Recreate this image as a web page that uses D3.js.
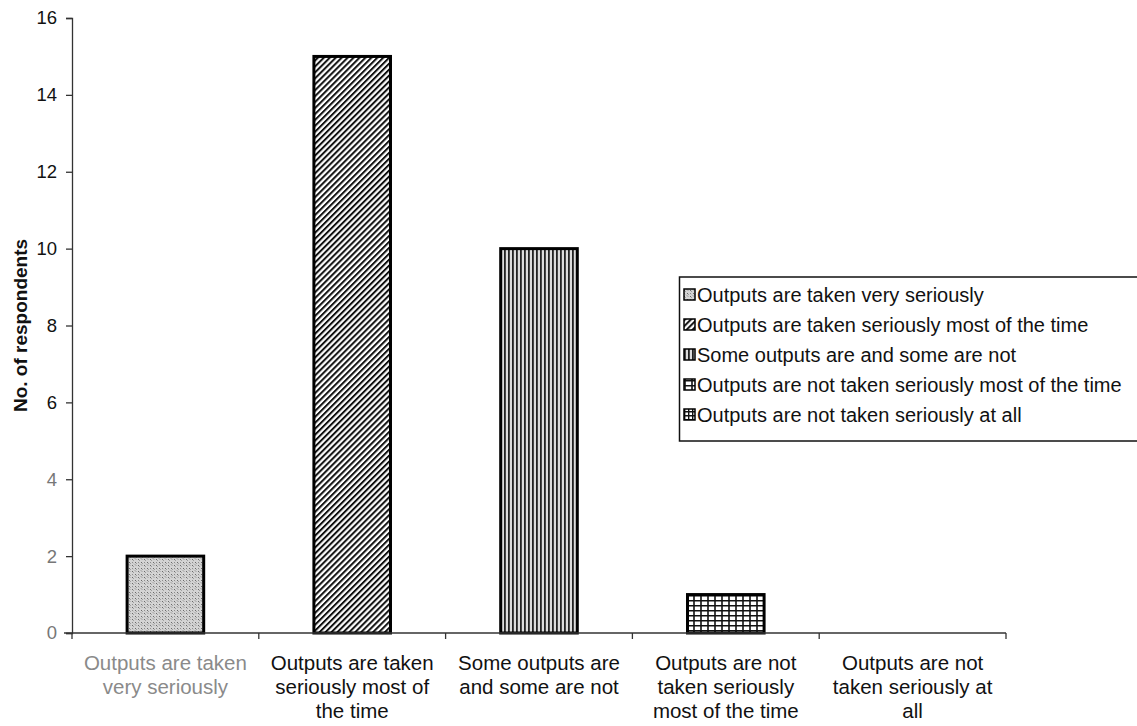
<!DOCTYPE html>
<html>
<head>
<meta charset="utf-8">
<script src="https://cdn.jsdelivr.net/npm/d3@7"></script>
<style>
  html, body { margin: 0; padding: 0; background: #fff; }
  svg { display: block; font-family: "Liberation Sans", Arial, Helvetica, sans-serif; }
</style>
</head>
<body>
<svg id="chart" width="1137" height="726"></svg>
<script>
// Survey responses: how seriously outputs are taken
const categories = [
  "Outputs are taken very seriously",
  "Outputs are taken seriously most of the time",
  "Some outputs are and some are not",
  "Outputs are not taken seriously most of the time",
  "Outputs are not taken seriously at all"
];
const axisLabelLines = [
  ["Outputs are taken", "very seriously"],
  ["Outputs are taken", "seriously most of", "the time"],
  ["Some outputs are", "and some are not"],
  ["Outputs are not", "taken seriously", "most of the time"],
  ["Outputs are not", "taken seriously at", "all"]
];
const respondents = [2, 15, 10, 1, 0];
const yTicks = [0, 2, 4, 6, 8, 10, 12, 14, 16];
const yTitle = "No. of respondents";
const patternIds = ["stipple", "diag", "vert", "grid", "check"];

const svg = d3.select("#chart");
const plot = { left: 72, right: 1006, top: 18, bottom: 633 };

const x = d3.scaleBand().domain(categories).range([plot.left, plot.right]).paddingInner(0.59).paddingOuter(0.295);
const y = d3.scaleLinear().domain([0, 16]).range([plot.bottom, plot.top]);

// fill patterns
const defs = svg.append("defs");
{
  const p = defs.append("pattern").attr("id", "stipple").attr("patternUnits", "userSpaceOnUse").attr("width", 6).attr("height", 6);
  p.append("rect").attr("width", 6).attr("height", 6).attr("fill", "#d4d4d4");
  p.append("path").attr("d", "M0,1 l1.5,1.5 M3,4 l1.5,1.5 M3,0.5 l1,1 M0,4.2 l1,1").attr("stroke", "#6a6a6a").attr("stroke-width", 1);
}
{
  const p = defs.append("pattern").attr("id", "diag").attr("patternUnits", "userSpaceOnUse").attr("width", 4.2).attr("height", 4.2)
    .attr("patternTransform", "rotate(45)");
  p.append("rect").attr("width", 4.2).attr("height", 4.2).attr("fill", "#fff");
  p.append("rect").attr("width", 2).attr("height", 4.2).attr("fill", "#111");
}
{
  const p = defs.append("pattern").attr("id", "vert").attr("patternUnits", "userSpaceOnUse").attr("width", 4).attr("height", 4);
  p.append("rect").attr("width", 4).attr("height", 4).attr("fill", "#dcdcdc");
  p.append("rect").attr("width", 1.8).attr("height", 4).attr("fill", "#222");
}
{
  const p = defs.append("pattern").attr("id", "grid").attr("patternUnits", "userSpaceOnUse").attr("width", 7).attr("height", 5);
  p.append("rect").attr("width", 7).attr("height", 5).attr("fill", "#fff");
  p.append("path").attr("d", "M0,0.8 H7 M1,0 V5").attr("stroke", "#111").attr("stroke-width", 1.6);
}
{
  const p = defs.append("pattern").attr("id", "check").attr("patternUnits", "userSpaceOnUse").attr("width", 4).attr("height", 4);
  p.append("rect").attr("width", 4).attr("height", 4).attr("fill", "#fff");
  p.append("path").attr("d", "M0,0.7 H4 M0.7,0 V4").attr("stroke", "#111").attr("stroke-width", 1.4);
}

// bars
svg.append("g").selectAll("rect").data(categories.map((c, i) => ({ c, v: respondents[i], i })).filter(d => d.v > 0))
  .join("rect")
  .attr("x", d => x(d.c))
  .attr("y", d => y(d.v))
  .attr("width", x.bandwidth())
  .attr("height", d => y(0) - y(d.v))
  .attr("fill", d => `url(#${patternIds[d.i]})`)
  .attr("stroke", "#000")
  .attr("stroke-width", 3);

// y axis
const yAxis = svg.append("g").attr("transform", `translate(${plot.left},0)`)
  .call(d3.axisLeft(y).tickValues(yTicks).tickSize(6).tickPadding(9));
yAxis.select(".domain").attr("stroke", "#333").attr("stroke-width", 1.3);
yAxis.selectAll(".tick line").attr("stroke", "#333").attr("stroke-width", 1.3);
yAxis.selectAll(".tick text").attr("font-size", 18.5).attr("fill", d => d <= 4 ? "#777" : "#111")
  .attr("font-family", "Liberation Sans, Arial, sans-serif");

// x axis
const xAxis = svg.append("g").attr("transform", `translate(0,${plot.bottom})`);
xAxis.append("line").attr("x1", plot.left - 8).attr("x2", plot.right).attr("y1", 0).attr("y2", 0)
  .attr("stroke", "#333").attr("stroke-width", 1.3);
const boundaries = categories.map(c => x(c) - x.step() * x.paddingInner() / 2).concat([plot.right]);
xAxis.selectAll("line.tk").data(boundaries).join("line").attr("class", "tk")
  .attr("x1", d => d).attr("x2", d => d).attr("y1", 0).attr("y2", 6)
  .attr("stroke", "#333").attr("stroke-width", 1.3);

const xl = svg.append("g").selectAll("text").data(categories).join("text")
  .attr("text-anchor", "middle")
  .attr("font-size", 20.5)
  .attr("fill", (d, i) => i === 0 ? "#8a8a8a" : "#111")
  .attr("transform", d => `translate(${x(d) + x.bandwidth() / 2},670)`);
xl.selectAll("tspan").data((d, i) => axisLabelLines[i]).join("tspan")
  .attr("x", 0).attr("dy", (d, j) => j === 0 ? 0 : 24).text(d => d);

// y title
svg.append("text")
  .attr("transform", `translate(27,${(plot.top + plot.bottom) / 2}) rotate(-90)`)
  .attr("text-anchor", "middle").attr("font-size", 19).attr("font-weight", "bold").attr("fill", "#111")
  .text(yTitle);

// legend
const lg = svg.append("g");
lg.append("rect").attr("x", 679.5).attr("y", 277).attr("width", 470).attr("height", 164)
  .attr("fill", "#fff").attr("stroke", "#111").attr("stroke-width", 1.5);
const items = lg.selectAll("g.it").data(categories).join("g").attr("class", "it")
  .attr("transform", (d, i) => `translate(684,${295 + i * 30})`);
items.append("rect").attr("x", 0).attr("y", -6).attr("width", 11).attr("height", 11)
  .attr("fill", (d, i) => `url(#${patternIds[i]})`).attr("stroke", "#000").attr("stroke-width", 1.5);
items.append("text").attr("x", 13).attr("y", 7).attr("font-size", 20).attr("fill", "#111").text(d => d);
</script>
</body>
</html>
